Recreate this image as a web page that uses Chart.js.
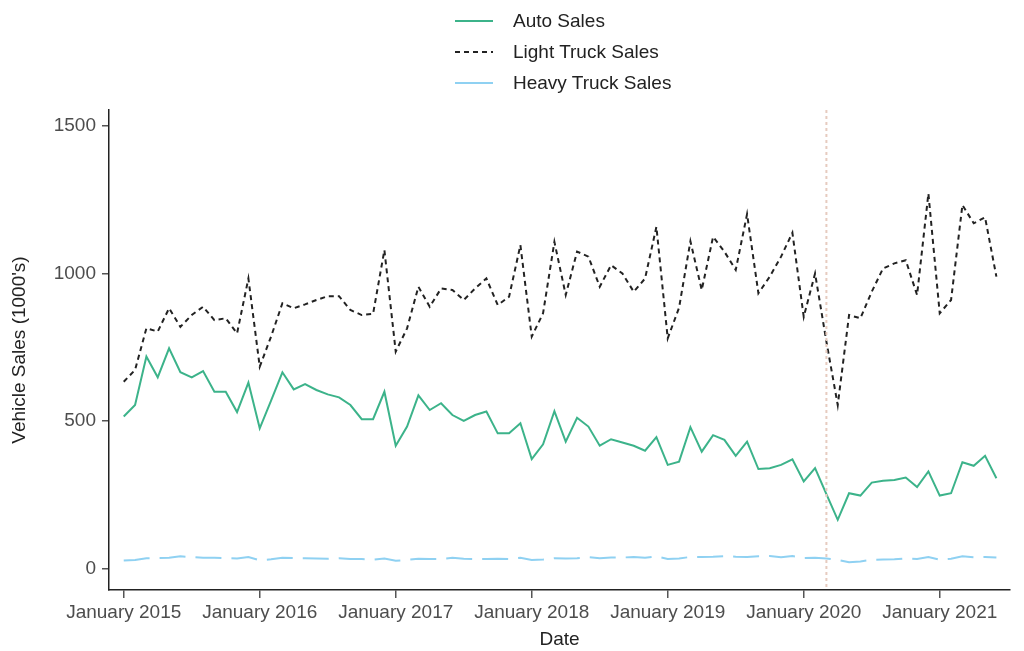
<!DOCTYPE html>
<html>
<head>
<meta charset="utf-8">
<title>Vehicle Sales</title>
<script src="https://cdn.jsdelivr.net/npm/chart.js@4.4.1/dist/chart.umd.min.js"></script>
<style>
  body { margin: 0; background: #fff; }
  .wrap { position: relative; width: 1024px; height: 651px; }
  #legend { position: absolute; left: 455px; top: 5px; font-family: 'Liberation Sans', Arial, sans-serif; font-size: 19px; color: #222; }
  #legend .row { height: 31px; display: flex; align-items: center; }
  #legend svg { width: 38px; height: 6px; margin-right: 20px; }
</style>
</head>
<body>
<div class="wrap">
  <canvas id="salesChart" width="1024" height="651"></canvas>
  <div id="legend"></div>
</div>
<script>
// monthly values, January 2015 .. June 2021 (1000's of vehicles)
const seriesNames = ['Auto Sales', 'Light Truck Sales', 'Heavy Truck Sales'];

const autoSales = [
  516, 555, 719, 649, 747, 666, 649, 670, 600, 600, 531, 631,
  476, 570, 666, 608, 626, 606, 591, 581, 555, 507, 507, 600,
  417, 482, 588, 538, 561, 521, 501, 521, 533, 459, 459, 493,
  372, 422, 534, 431, 512, 482, 417, 439, 428, 417, 400, 446,
  352, 363, 480, 397, 453, 437, 383, 431, 338, 341, 352, 371,
  296, 341, 253, 166, 256, 248, 292, 298, 301, 309, 277, 330,
  248, 256, 361, 349, 383, 307
];

const lightTruckSales = [
  634, 674, 815, 804, 883, 820, 860, 888, 843, 849, 798, 984,
  685, 787, 900, 883, 896, 911, 924, 924, 877, 860, 864, 1080,
  736, 815, 956, 888, 950, 945, 911, 950, 984, 894, 922, 1097,
  787, 866, 1108, 928, 1075, 1058, 956, 1029, 1001, 939, 984, 1159,
  781, 885, 1110, 945, 1125, 1075, 1013, 1202, 934, 990, 1058, 1139,
  854, 1001, 770, 555, 860, 849, 939, 1018, 1035, 1046, 928, 1272,
  866, 911, 1233, 1171, 1191, 990
];

const heavyTruckSales = [
  28, 30, 36, 36, 37, 42, 40, 37, 37, 36, 35, 40,
  29, 32, 37, 36, 36, 35, 34, 36, 33, 33, 31, 35,
  27, 30, 34, 33, 33, 37, 34, 33, 33, 34, 33, 37,
  30, 31, 36, 35, 36, 39, 36, 38, 38, 40, 37, 42,
  33, 35, 40, 40, 41, 43, 41, 40, 42, 43, 39, 43,
  36, 37, 35, 30, 22, 25, 30, 31, 32, 35, 33, 40,
  31, 34, 42, 39, 40, 38
];

const xTickLabels = ['January 2015', 'January 2016', 'January 2017', 'January 2018',
                     'January 2019', 'January 2020', 'January 2021'];
const yTicks = [0, 500, 1000, 1500];
const eventMonth = 62; // March 2020, months since January 2015

const colors = ['#3cb38a', '#222222', '#8fd1f2'];
const dashes = [[], [5, 4], [26, 10]];
const legendDashes = [[], [5, 4], []];

const toPoints = arr => arr.map((v, i) => ({ x: i, y: v }));

// dotted marker line at the event month
const eventLine = {
  id: 'eventLine',
  afterDatasetsDraw(chart) {
    const { ctx, chartArea, scales } = chart;
    const x = scales.x.getPixelForValue(eventMonth);
    ctx.save();
    ctx.strokeStyle = '#e6cbbf';
    ctx.lineWidth = 2;
    ctx.setLineDash([3, 3]);
    ctx.beginPath();
    ctx.moveTo(x, chartArea.top);
    ctx.lineTo(x, chartArea.bottom);
    ctx.stroke();
    ctx.restore();
  }
};

Chart.defaults.font.family = "'Liberation Sans', Arial, sans-serif";
Chart.defaults.font.size = 19;

new Chart(document.getElementById('salesChart'), {
  type: 'line',
  data: {
    datasets: [autoSales, lightTruckSales, heavyTruckSales].map((arr, k) => ({
      label: seriesNames[k],
      data: toPoints(arr),
      borderColor: colors[k],
      borderDash: dashes[k],
      borderWidth: 2,
      pointRadius: 0,
      tension: 0,
      fill: false
    }))
  },
  options: {
    responsive: false,
    animation: false,
    layout: { padding: { top: 110, right: 14, left: 0, bottom: 0 } },
    plugins: {
      legend: { display: false },
      tooltip: { enabled: false }
    },
    scales: {
      x: {
        type: 'linear',
        min: -1.3,
        max: 78.2,
        afterBuildTicks: s => { s.ticks = xTickLabels.map((_, i) => ({ value: i * 12 })); },
        afterFit: s => { s.height = 61; },
        ticks: {
          color: '#4d4d4d',
          padding: 3,
          maxRotation: 0,
          autoSkip: false,
          callback: v => xTickLabels[v / 12]
        },
        grid: { drawOnChartArea: false, tickLength: 8, color: '#555', lineWidth: 1.5 },
        border: { color: '#222', width: 1.5 },
        title: { display: true, text: 'Date', color: '#222', padding: { top: 0, bottom: 0 } }
      },
      y: {
        min: -72,
        max: 1555,
        afterBuildTicks: s => { s.ticks = yTicks.map(v => ({ value: v })); },
        afterFit: s => { s.width = 109; },
        ticks: { color: '#4d4d4d', padding: 6, callback: v => String(v) },
        grid: { drawOnChartArea: false, tickLength: 7, color: '#555', lineWidth: 1.5 },
        border: { color: '#222', width: 1.5 },
        title: { display: true, text: "Vehicle Sales (1000's)", color: '#222', padding: { top: 8, bottom: 0 } }
      }
    }
  },
  plugins: [eventLine]
});

// legend stacked in one column, as in the original
const legend = document.getElementById('legend');
seriesNames.forEach((name, k) => {
  const row = document.createElement('div');
  row.className = 'row';
  row.innerHTML = '<svg viewBox="0 0 38 6"><line x1="0" y1="3" x2="38" y2="3" stroke="' + colors[k] +
    '" stroke-width="2" stroke-dasharray="' + (legendDashes[k].join(' ') || 'none') + '"/></svg><span>' + name + '</span>';
  legend.appendChild(row);
});
</script>
</body>
</html>
